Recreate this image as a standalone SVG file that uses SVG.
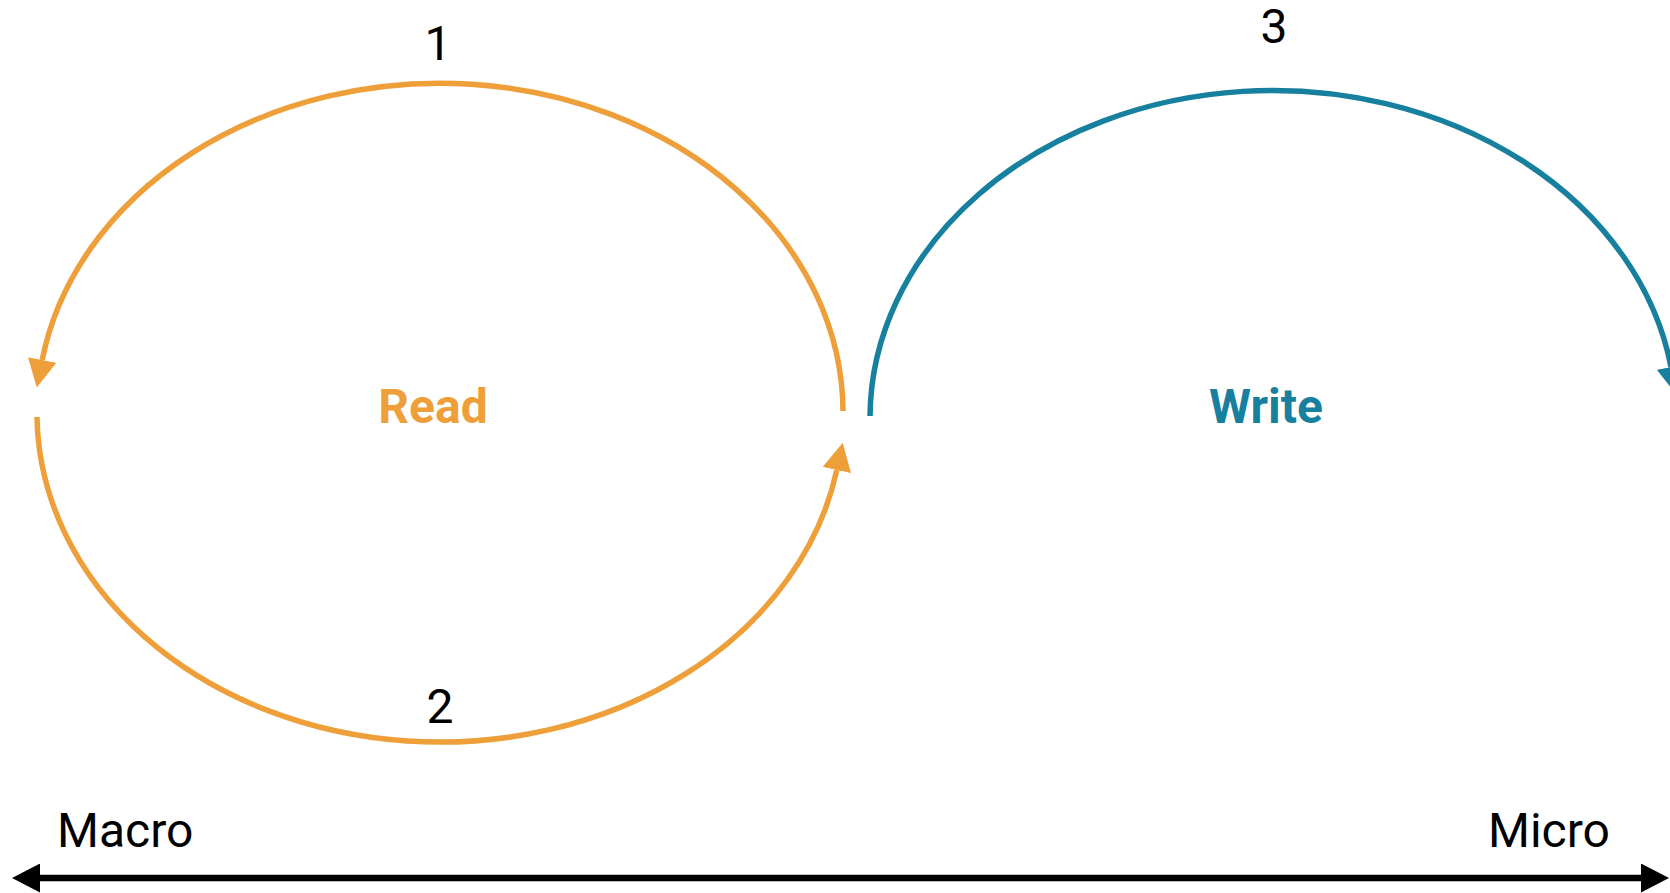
<svg xmlns="http://www.w3.org/2000/svg" width="1670" height="893" viewBox="0 0 1670 893">
  <style>
    .lbl { font-family: Roboto, "Liberation Sans", sans-serif; font-size: 48px; fill: #000; }
    .num { font-family: Roboto, "Liberation Sans", sans-serif; font-size: 48px; fill: #000; text-anchor: middle; }
    .title { font-family: Roboto, "Liberation Sans", sans-serif; font-size: 48px; font-weight: bold; text-anchor: middle; }
    .orange { stroke: #EE9F3A; fill: none; stroke-width: 5.5; }
    .teal { stroke: #17809F; fill: none; stroke-width: 5.5; }
    .axis { stroke: #000; fill: none; stroke-width: 6.5; }
  </style>
  <defs>
    <marker id="arrO" markerUnits="userSpaceOnUse" viewBox="0 0 28 29" refX="0" refY="14.5" markerWidth="28" markerHeight="29" orient="auto">
      <path d="M0,0 L28,14.5 L0,29 z" fill="#EE9F3A"/>
    </marker>
    <marker id="arrT" markerUnits="userSpaceOnUse" viewBox="0 0 28 29" refX="0" refY="14.5" markerWidth="28" markerHeight="29" orient="auto">
      <path d="M0,0 L28,14.5 L0,29 z" fill="#17809F"/>
    </marker>
    <marker id="arrK" markerUnits="userSpaceOnUse" viewBox="0 0 28 29" refX="0" refY="14.5" markerWidth="28" markerHeight="29" orient="auto-start-reverse">
      <path d="M0,0 L28,14.5 L0,29 z" fill="#000"/>
    </marker>
  </defs>
  <rect width="1670" height="893" fill="#fff"/>
  <g id="connectors">
    <path id="arc1" class="orange" d="M 843 411 A 403 329.5 0 0 0 42.2 360" marker-end="url(#arrO)"/>
    <path id="arc2" class="orange" d="M 37 417 A 403 329.5 0 0 0 836.8 470" marker-end="url(#arrO)"/>
    <path id="arc3" class="teal" d="M 870 416 A 403 328 0 0 1 1671 367" marker-end="url(#arrT)"/>
    <line id="axis" class="axis" x1="40" y1="878" x2="1641" y2="878" marker-start="url(#arrK)" marker-end="url(#arrK)"/>
  </g>
  <g id="label-1"><text class="num" x="438" y="60">1</text></g>
  <g id="label-2"><text class="num" x="440" y="723">2</text></g>
  <g id="label-3"><text class="num" x="1274" y="43">3</text></g>
  <g id="node-read"><text class="title" x="433" y="423" fill="#EE9F3A">Read</text></g>
  <g id="node-write"><text class="title" x="1266" y="423" fill="#17809F">Write</text></g>
  <g id="label-macro"><text class="lbl" x="57" y="847">Macro</text></g>
  <g id="label-micro"><text class="lbl" x="1488" y="847">Micro</text></g>
</svg>
